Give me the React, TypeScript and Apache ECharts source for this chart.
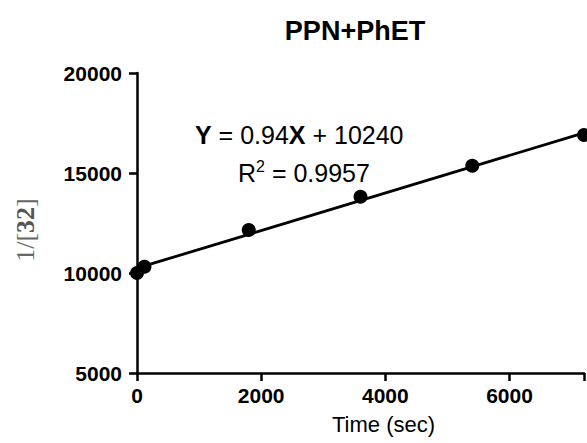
import React, { useEffect, useRef } from "react";
import * as echarts from "echarts";

const timeSec = [0, 120, 1800, 3600, 5400, 7200];
const invConc = [10000, 10310, 12150, 13810, 15360, 16900];
const fitLine = [
  [0, 10240],
  [7200, 17008],
];
const xTicks = [0, 2000, 4000, 6000];
const yTicks = [5000, 10000, 15000, 20000];

const titleText = "PPN+PhET";
const xName = "Time (sec)";
const eqText = "{b|Y} = 0.94{b|X} + 10240";
const r2Text = "R{sup|2} = 0.9957";

export default function App() {
  const ref = useRef<HTMLDivElement>(null);
  useEffect(() => {
    document.body.style.margin = "0";
    const chart = echarts.init(ref.current!, null, { renderer: "svg" });
    const font = "'Liberation Sans', Arial, sans-serif";
    const serif = "'Liberation Serif', 'Times New Roman', serif";
    chart.setOption({
      animation: false,
      backgroundColor: "#ffffff",
      title: {
        text: titleText,
        left: 350,
        top: 12,
        textAlign: "center",
        textStyle: { fontFamily: font, fontWeight: "bold", fontSize: 27, color: "#000" },
      },
      grid: { left: 137, top: 73, right: 1, bottom: 70, containLabel: false },
      xAxis: {
        type: "value",
        min: 0,
        max: 7200,
        interval: 2000,
        name: xName,
        nameLocation: "middle",
        nameGap: 40,
        nameTextStyle: { fontFamily: font, fontSize: 22, color: "#000", padding: [0, 0, 0, 46] },
        axisLine: { show: true, onZero: false, lineStyle: { color: "#000", width: 2.5 } },
        axisTick: { show: true, inside: false, length: 8, lineStyle: { color: "#000", width: 2.5 } },
        axisLabel: {
          fontFamily: font,
          fontWeight: "bold",
          fontSize: 21,
          color: "#000",
          margin: 12,
          formatter: (v: number) => (xTicks.includes(v) ? String(v) : ""),
        },
        splitLine: { show: false },
      },
      yAxis: {
        type: "value",
        min: 5000,
        max: 20000,
        interval: 5000,
        axisLine: { show: true, onZero: false, lineStyle: { color: "#000", width: 2.5 } },
        axisTick: { show: true, inside: false, length: 8, lineStyle: { color: "#000", width: 2.5 } },
        axisLabel: {
          fontFamily: font,
          fontWeight: "bold",
          fontSize: 21,
          color: "#000",
          margin: 15,
          formatter: (v: number) => (yTicks.includes(v) ? String(v) : ""),
        },
        splitLine: { show: false },
      },
      series: [
        {
          type: "line",
          data: fitLine,
          showSymbol: false,
          symbol: "none",
          lineStyle: { color: "#000", width: 2.8 },
          clip: false,
          z: 2,
        },
        {
          type: "scatter",
          data: timeSec.map((t, i) => [t, invConc[i]]),
          symbol: "circle",
          symbolSize: 14,
          itemStyle: { color: "#000", opacity: 1 },
          clip: false,
          z: 3,
        },
      ],
      graphic: [
        {
          type: "text",
          x: 195,
          y: 135,
          style: {
            text: eqText,
            fontFamily: font,
            fontSize: 25,
            fill: "#000",
            verticalAlign: "middle",
            rich: {
              b: { fontFamily: font, fontSize: 25, fontWeight: "bold", fill: "#000" },
            },
          },
        },
        {
          type: "text",
          x: 238,
          y: 173,
          style: {
            text: r2Text,
            fontFamily: font,
            fontSize: 25,
            fill: "#000",
            verticalAlign: "middle",
            lineHeight: 30,
            rich: {
              sup: { fontFamily: font, fontSize: 16, fill: "#000", verticalAlign: "top", lineHeight: 16 },
            },
          },
        },
        {
          type: "text",
          x: 25,
          y: 230,
          rotation: Math.PI / 2,
          style: {
            text: "1/[{b|32}]",
            fontFamily: serif,
            fontSize: 26,
            fill: "#666",
            align: "center",
            verticalAlign: "middle",
            rich: {
              b: { fontFamily: serif, fontSize: 26, fontWeight: "bold", fill: "#555" },
            },
          },
        },
      ],
    });
    return () => chart.dispose();
  }, []);
  return <div ref={ref} style={{ width: 587, height: 443 }} />;
}
